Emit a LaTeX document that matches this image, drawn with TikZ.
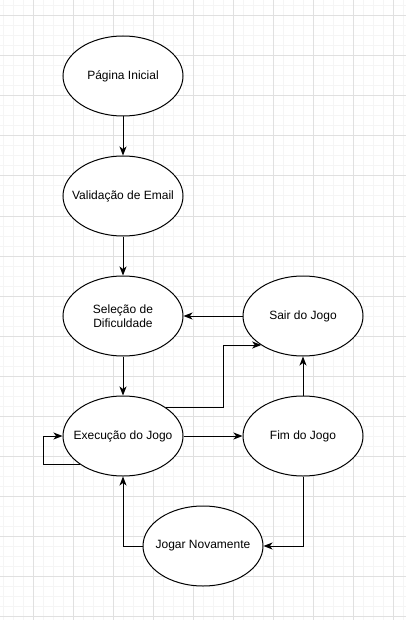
\documentclass[tikz,border=0pt]{standalone}
\usepackage{fontspec}
\setmainfont{Liberation Sans}
\usetikzlibrary{shapes.geometric,arrows.meta}
\definecolor{gridminor}{HTML}{F5F5F5}
\definecolor{gridmajor}{HTML}{E0E0E0}
\tikzset{
  state/.style={ellipse, draw=black, line width=1pt, fill=white, minimum width=120pt, minimum height=80pt, inner xsep=-25pt, inner ysep=0pt, align=center, font=\fontsize{12pt}{14.5pt}\selectfont},
  flow/.style={line width=1pt, -{Stealth[length=9pt,width=7pt,inset=2.5pt]}},
}
\begin{document}
\begin{tikzpicture}[x=1pt,y=-1pt]
\useasboundingbox (0,0) rectangle (406,620);
\fill[white] (0,0) rectangle (406,620);
% grid
\foreach \gx in {3,13,...,403} \draw[gridminor, line width=1pt] (\gx,0) -- (\gx,620);
\foreach \gy in {6,16,...,616} \draw[gridminor, line width=1pt] (0,\gy) -- (406,\gy);
\foreach \gx in {33,73,...,393} \draw[gridmajor, line width=1pt] (\gx,0) -- (\gx,620);
\foreach \gy in {16,56,...,616} \draw[gridmajor, line width=1pt] (0,\gy) -- (406,\gy);
% nodes
\node[state] (pag) at (123,76) {Página Inicial};
\node[state] (val) at (123,196) {Validação de Email};
\node[state] (sel) at (123,316) {Seleção de\\Dificuldade};
\node[state] (exe) at (123,436) {Execução do Jogo};
\node[state] (sair) at (303,316) {Sair do Jogo};
\node[state] (fim) at (303,436) {Fim do Jogo};
\node[state] (jog) at (203,546) {Jogar Novamente};
\coordinate (k1) at (223,345);
\coordinate (loop) at (43,436);
% edges
\draw[flow] (pag) -- (val);
\draw[flow] (val) -- (sel);
\draw[flow] (sel) -- (exe);
\draw[flow] (sair) -- (sel);
\draw[flow] (exe) -- (fim);
\draw[flow] (fim) -- (sair);
\draw[flow] (exe.33) -| (k1) -- (sair.215 |- k1);
\draw[flow] (fim.south) |- (jog.east);
\draw[flow] (jog.west) -| (exe.south);
\draw[flow] (exe.213) -| (loop) -- (exe.west);
\end{tikzpicture}
\end{document}
